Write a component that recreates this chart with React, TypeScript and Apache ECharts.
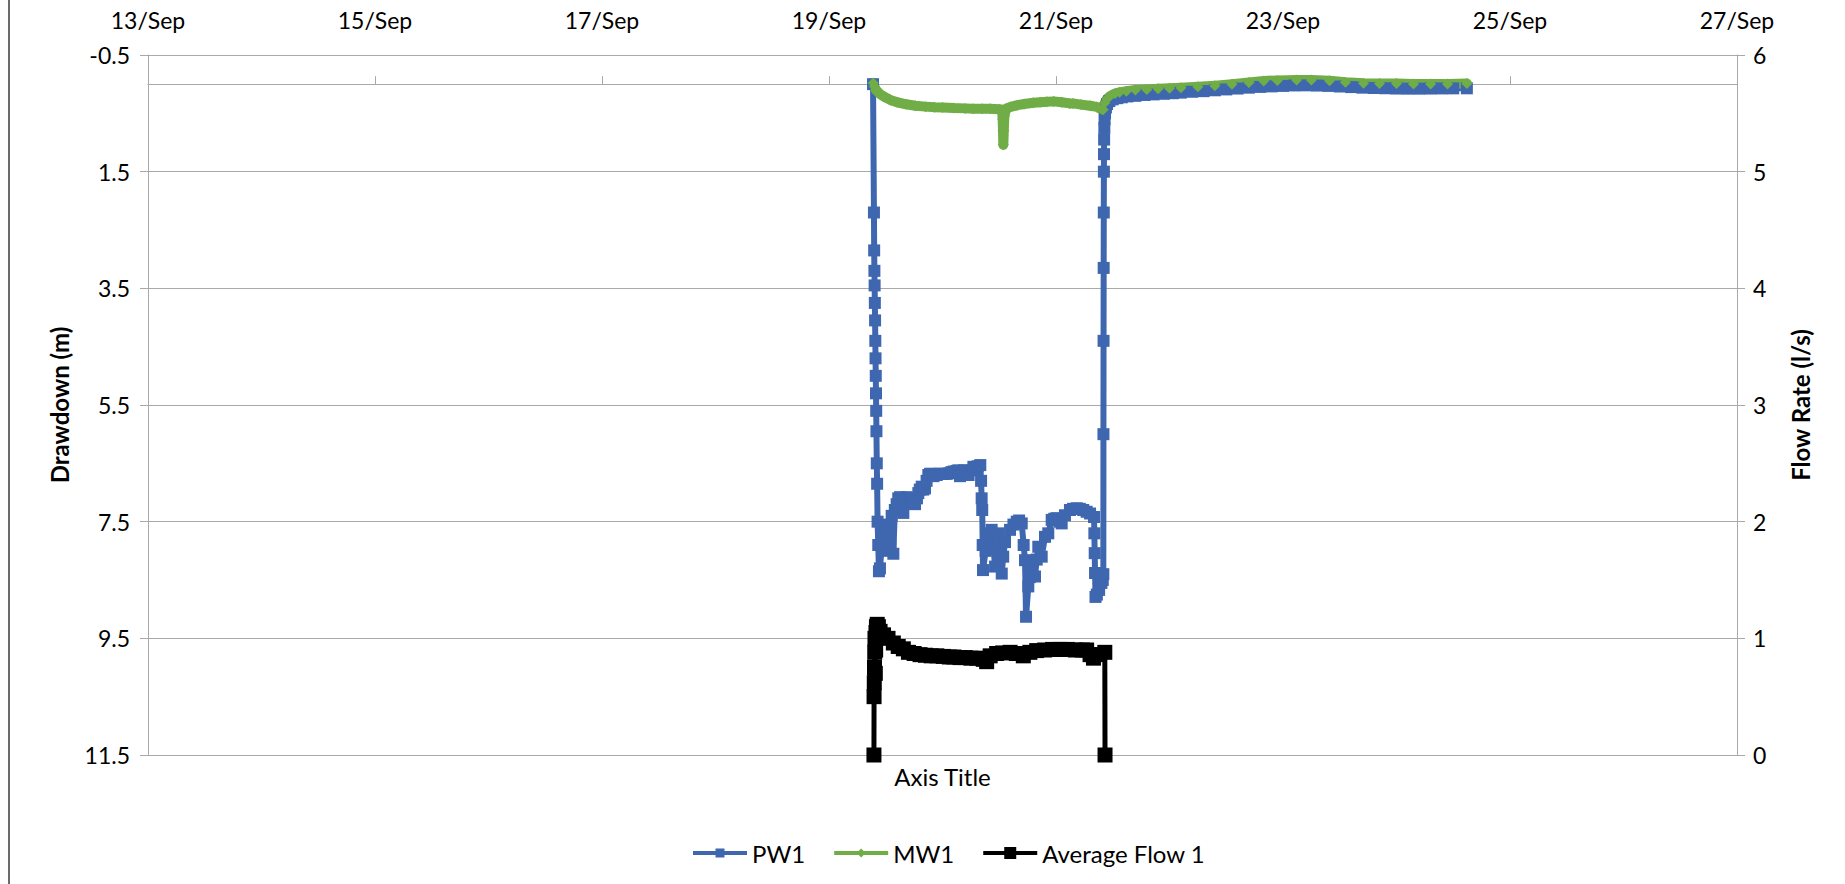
import React, { useEffect, useRef } from "react";
import * as echarts from "echarts";

// ---- axis ticks ----
const dateTicks = [13, 15, 17, 19, 21, 23, 25, 27];
const drawdownTicks = [-0.5, 1.5, 3.5, 5.5, 7.5, 9.5, 11.5];

// ---- series: [day of September, value] ----
const pw1: number[][] = [
  [19.388, 0.0], [19.396, 2.2], [19.398, 2.85], [19.4, 3.2], [19.402, 3.45], [19.404, 3.75],
  [19.406, 4.05], [19.408, 4.4], [19.41, 4.7], [19.412, 5.0], [19.414, 5.3], [19.416, 5.6],
  [19.418, 5.95], [19.421, 6.5], [19.424, 6.85], [19.428, 7.5], [19.434, 7.9], [19.44, 8.35],
  [19.449, 8.3], [19.47, 7.8], [19.49, 7.55], [19.505, 8.0], [19.523, 7.6], [19.54, 7.9],
  [19.552, 7.4], [19.567, 8.05], [19.58, 7.3], [19.596, 7.2], [19.61, 7.1], [19.626, 7.08],
  [19.64, 7.3], [19.655, 7.35], [19.67, 7.1], [19.684, 7.08], [19.7, 7.12], [19.714, 7.15],
  [19.735, 7.15], [19.758, 7.2], [19.775, 7.1], [19.787, 7.01], [19.8, 6.95], [19.817, 6.9],
  [19.83, 6.95], [19.846, 6.93], [19.86, 6.8], [19.875, 6.7], [19.89, 6.68], [19.905, 6.68],
  [19.92, 6.72], [19.935, 6.7], [19.949, 6.7], [19.97, 6.68], [19.99, 6.68], [20.01, 6.68],
  [20.037, 6.68], [20.06, 6.67], [20.08, 6.65], [20.1, 6.64], [20.125, 6.63], [20.14, 6.62],
  [20.154, 6.72], [20.17, 6.66], [20.19, 6.62], [20.213, 6.63], [20.23, 6.7], [20.25, 6.62],
  [20.272, 6.56], [20.29, 6.6], [20.31, 6.55], [20.333, 6.53], [20.34, 6.8], [20.345, 7.1],
  [20.35, 7.3], [20.354, 7.9], [20.357, 8.33], [20.38, 8.0], [20.404, 7.7], [20.433, 7.64],
  [20.45, 7.95], [20.463, 8.27], [20.475, 7.95], [20.492, 7.7], [20.505, 8.0], [20.522, 8.39],
  [20.535, 8.1], [20.551, 7.85], [20.595, 7.64], [20.625, 7.55], [20.654, 7.5], [20.675, 7.48],
  [20.698, 7.53], [20.715, 7.9], [20.727, 8.16], [20.736, 9.13], [20.756, 8.61], [20.77, 8.45],
  [20.786, 8.21], [20.815, 8.44], [20.83, 8.15], [20.844, 7.93], [20.874, 8.1], [20.903, 7.76],
  [20.932, 7.7], [20.962, 7.47], [20.985, 7.45], [21.006, 7.44], [21.03, 7.5], [21.05, 7.53],
  [21.079, 7.39], [21.123, 7.3], [21.15, 7.28], [21.182, 7.27], [21.21, 7.28], [21.24, 7.3],
  [21.27, 7.33], [21.3, 7.36], [21.335, 7.42], [21.338, 7.7], [21.341, 8.04], [21.344, 8.38],
  [21.348, 8.79], [21.36, 8.75], [21.38, 8.67], [21.4, 8.55], [21.412, 8.5], [21.417, 8.4],
  [21.418, 6.0], [21.419, 4.4], [21.42, 3.15], [21.421, 2.2], [21.422, 1.5], [21.423, 1.2],
  [21.424, 0.95], [21.426, 0.75], [21.428, 0.6], [21.432, 0.5], [21.44, 0.4], [21.45, 0.34],
  [21.47, 0.29], [21.5, 0.26], [21.54, 0.24], [21.58, 0.225], [21.63, 0.21], [21.7, 0.2],
  [21.78, 0.185], [21.86, 0.175], [21.95, 0.165], [22.03, 0.155], [22.1, 0.145], [22.2, 0.13],
  [22.3, 0.12], [22.4, 0.105], [22.5, 0.09], [22.6, 0.075], [22.7, 0.06], [22.8, 0.047],
  [22.9, 0.038], [23.0, 0.03], [23.1, 0.022], [23.2, 0.02], [23.3, 0.024], [23.4, 0.03],
  [23.5, 0.04], [23.6, 0.05], [23.7, 0.06], [23.8, 0.066], [23.9, 0.07], [24.0, 0.075],
  [24.1, 0.077], [24.2, 0.077], [24.3, 0.075], [24.4, 0.073], [24.5, 0.072], [24.62, 0.071],
];

const mw1: number[][] = [
  [19.39, -0.02], [19.4, 0.04], [19.41, 0.09], [19.43, 0.13], [19.45, 0.17], [19.49, 0.22],
  [19.54, 0.27], [19.6, 0.31], [19.68, 0.345], [19.76, 0.37], [19.85, 0.385], [19.93, 0.395],
  [20.0, 0.4], [20.1, 0.41], [20.2, 0.415], [20.27, 0.42], [20.35, 0.42], [20.42, 0.42],
  [20.5, 0.43], [20.525, 0.44], [20.53, 0.6], [20.533, 0.8], [20.536, 1.04], [20.54, 0.8],
  [20.545, 0.55], [20.56, 0.42], [20.6, 0.39], [20.66, 0.36], [20.72, 0.34], [20.8, 0.32],
  [20.86, 0.31], [20.92, 0.3], [20.98, 0.295], [21.05, 0.31], [21.12, 0.33], [21.15, 0.33],
  [21.22, 0.35], [21.3, 0.37], [21.36, 0.39], [21.4, 0.43], [21.415, 0.44], [21.43, 0.32],
  [21.45, 0.25], [21.48, 0.2], [21.52, 0.16], [21.56, 0.14], [21.62, 0.12], [21.7, 0.1],
  [21.8, 0.09], [21.9, 0.08], [22.0, 0.07], [22.1, 0.06], [22.25, 0.045], [22.4, 0.025],
  [22.55, 0.0], [22.7, -0.03], [22.83, -0.055], [22.95, -0.065], [23.12, -0.07], [23.25, -0.07],
  [23.41, -0.06], [23.55, -0.035], [23.71, -0.015], [23.85, -0.01], [24.0, -0.01], [24.15, -0.005],
  [24.3, -0.005], [24.45, -0.005], [24.62, -0.01],
];

const avgFlow1: number[][] = [
  [19.396, 0], [19.397, 0.5], [19.399, 0.62], [19.401, 0.75], [19.403, 0.88], [19.405, 1.0],
  [19.408, 0.7], [19.411, 0.9], [19.414, 1.05], [19.418, 1.1], [19.425, 1.12], [19.435, 1.1],
  [19.45, 1.06], [19.48, 1.03], [19.52, 1.0], [19.567, 0.96], [19.61, 0.93], [19.655, 0.91],
  [19.7, 0.88], [19.75, 0.87], [19.802, 0.86], [19.85, 0.855], [19.9, 0.85], [19.95, 0.85],
  [20.007, 0.845], [20.06, 0.84], [20.1, 0.84], [20.154, 0.835], [20.2, 0.835], [20.25, 0.83],
  [20.3, 0.83], [20.359, 0.82], [20.389, 0.8], [20.42, 0.85], [20.477, 0.87], [20.53, 0.875],
  [20.595, 0.88], [20.65, 0.87], [20.712, 0.85], [20.77, 0.88], [20.83, 0.895], [20.9, 0.9],
  [20.97, 0.905], [21.035, 0.905], [21.1, 0.905], [21.17, 0.9], [21.23, 0.9], [21.27, 0.9],
  [21.3, 0.86], [21.33, 0.83], [21.38, 0.86], [21.43, 0.88], [21.432, 0],
];

const BLUE = "#3F67B0";
const GREEN = "#70AD47";
const BLACK = "#000000";
const AXIS_GRAY = "#A9A9A9";
const FONT = "Lato, 'Noto Sans', sans-serif";

export default function App() {
  const ref = useRef<HTMLDivElement>(null);

  useEffect(() => {
    document.body.style.margin = "0";
    const chart = echarts.init(ref.current as HTMLDivElement, null, { renderer: "svg" });
    const tickText = { fontFamily: FONT, fontSize: 23, color: "#000" };
    chart.setOption({
      animation: false,
      textStyle: { fontFamily: FONT },
      grid: { left: 148, top: 55, width: 1589, height: 700, outerBoundsMode: "none" },
      graphic: [
        {
          type: "line",
          shape: { x1: 9, y1: 0, x2: 9, y2: 884 },
          style: { stroke: "#6b6b6b", lineWidth: 2 },
        },
      ],
      xAxis: [
        {
          type: "value",
          position: "top",
          min: 13,
          max: 27,
          axisLine: {
            show: true,
            onZero: true,
            onZeroAxisIndex: 0,
            lineStyle: { color: AXIS_GRAY, width: 1 },
          },
          axisTick: {
            show: true,
            inside: false,
            length: 8,
            customValues: dateTicks,
            lineStyle: { color: AXIS_GRAY },
          },
          axisLabel: {
            ...tickText,
            margin: 24,
            customValues: dateTicks,
            formatter: (v: number) => `${v}/Sep`,
          },
          splitLine: { show: false },
        },
        {
          type: "value",
          position: "bottom",
          min: 13,
          max: 27,
          axisLine: { show: false, onZero: false },
          axisTick: { show: false },
          axisLabel: { show: false },
          splitLine: { show: false },
          name: "Axis Title",
          nameLocation: "middle",
          nameGap: 9,
          nameTextStyle: { fontFamily: FONT, fontSize: 24, color: "#000" },
        },
      ],
      yAxis: [
        {
          type: "value",
          position: "left",
          inverse: true,
          min: -0.5,
          max: 11.5,
          axisLine: { show: true, onZero: false, lineStyle: { color: AXIS_GRAY, width: 1 } },
          axisTick: {
            show: true,
            inside: false,
            length: 8,
            customValues: drawdownTicks,
            lineStyle: { color: AXIS_GRAY },
          },
          axisLabel: {
            ...tickText,
            margin: 18,
            customValues: drawdownTicks,
            formatter: (v: number) => `${v}`,
          },
          splitLine: { show: true, lineStyle: { color: AXIS_GRAY, width: 1 } },
          name: "Drawdown (m)",
          nameLocation: "middle",
          nameGap: 77,
          nameTextStyle: { fontFamily: FONT, fontSize: 24, fontWeight: "bold", color: "#000" },
        },
        {
          type: "value",
          position: "right",
          min: 0,
          max: 6,
          interval: 1,
          axisLine: { show: true, onZero: false, lineStyle: { color: AXIS_GRAY, width: 1 } },
          axisTick: { show: true, inside: false, length: 8, lineStyle: { color: AXIS_GRAY } },
          axisLabel: { ...tickText, margin: 16 },
          splitLine: { show: false },
          name: "Flow Rate (l/s)",
          nameLocation: "middle",
          nameGap: 51,
          nameTextStyle: { fontFamily: FONT, fontSize: 24, fontWeight: "bold", color: "#000" },
        },
      ],
      legend: {
        left: 688,
        top: 836,
        itemWidth: 54,
        itemHeight: 12,
        itemGap: 29,
        symbolKeepAspect: true,
        selectedMode: false,
        textStyle: { fontFamily: FONT, fontSize: 24, color: "#000" },
        data: [
          {
            name: "PW1",
            icon: "path://M0 0M54 12M0 4H54V8H0Z M22.5 1.5H31.5V10.5H22.5Z",
            itemStyle: { color: BLUE, borderWidth: 0 },
          },
          {
            name: "MW1",
            icon: "path://M0 0M54 12M0 4H54V8H0Z M27 1.5L31.5 6L27 10.5L22.5 6Z",
            itemStyle: { color: GREEN, borderWidth: 0 },
          },
          {
            name: "Average Flow 1",
            icon: "path://M0 0M54 12M0 4H54V8H0Z M21 0H33V12H21Z",
            itemStyle: { color: BLACK, borderWidth: 0 },
          },
        ],
      },
      series: [
        {
          name: "PW1",
          type: "line",
          xAxisIndex: 0,
          yAxisIndex: 0,
          data: pw1,
          symbol: "rect",
          symbolSize: 12,
          showAllSymbol: true,
          itemStyle: { color: BLUE, borderWidth: 0 },
          lineStyle: { color: BLUE, width: 6, join: "round", cap: "round" },
        },
        {
          name: "MW1",
          type: "line",
          xAxisIndex: 0,
          yAxisIndex: 0,
          data: mw1,
          symbol: "diamond",
          symbolSize: 11,
          showAllSymbol: true,
          itemStyle: { color: GREEN, borderWidth: 0 },
          lineStyle: { color: GREEN, width: 10, join: "round", cap: "round" },
        },
        {
          name: "Average Flow 1",
          type: "line",
          xAxisIndex: 0,
          yAxisIndex: 1,
          data: avgFlow1,
          symbol: "rect",
          symbolSize: 15,
          showAllSymbol: true,
          itemStyle: { color: BLACK, borderWidth: 0 },
          lineStyle: { color: BLACK, width: 5, join: "round" },
        },
      ],
    });
    return () => chart.dispose();
  }, []);

  return <div ref={ref} style={{ width: 1845, height: 884 }} />;
}
